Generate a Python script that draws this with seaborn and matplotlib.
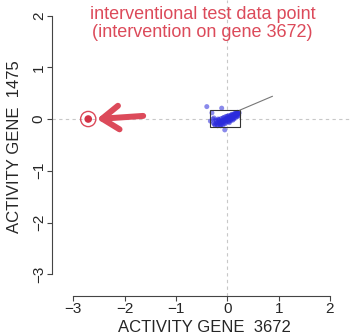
import numpy as np
import pandas as pd
import matplotlib
matplotlib.use("Agg")
import matplotlib.pyplot as plt
import seaborn as sns
from matplotlib.patches import Rectangle, FancyArrowPatch

obs_x = [-0.40, -0.11, -0.30, -0.05, -0.28, -0.25, -0.22, -0.20, -0.18, -0.16,
         -0.15, -0.13, -0.12, -0.10, -0.09, -0.08, -0.07, -0.06, -0.05, -0.04,
         -0.03, -0.02, -0.01, 0.00, 0.01, 0.02, 0.03, 0.04, 0.05, 0.06,
         0.07, 0.08, 0.09, 0.10, 0.11, 0.12, 0.13, 0.14, 0.15, 0.16,
         0.17, 0.18, 0.19, 0.20, 0.21, 0.22, 0.23, -0.24, -0.19, -0.14,
         -0.11, -0.06, -0.02, 0.02, 0.06, 0.10, 0.14, 0.18, -0.17, -0.08,
         0.00, 0.08, 0.15, 0.21, -0.33, -0.26, 0.04, 0.12, -0.21, -0.16,
         -0.12, -0.07, -0.03, 0.01, 0.05, 0.09, 0.13, 0.17, 0.20, -0.27,
         -0.23, -0.18, -0.13, -0.04, 0.03, 0.07, 0.11, 0.16, 0.22, -0.09]
obs_y = [0.24, 0.21, 0.12, -0.21, 0.00, -0.10, -0.08, -0.11, -0.07, -0.09,
         -0.05, -0.07, -0.04, -0.06, -0.03, -0.05, -0.02, -0.04, -0.01, -0.03,
         0.00, -0.02, 0.01, -0.01, 0.02, 0.00, 0.03, 0.01, 0.04, 0.02,
         0.05, 0.03, 0.06, 0.04, 0.07, 0.05, 0.08, 0.06, 0.09, 0.07,
         0.10, 0.08, 0.11, 0.09, 0.12, 0.10, 0.12, -0.12, -0.13, -0.11,
         -0.10, -0.08, -0.06, -0.04, -0.01, 0.01, 0.03, 0.05, -0.02, 0.02,
         0.05, 0.08, 0.11, 0.05, -0.04, 0.02, -0.07, 0.00, -0.04, -0.01,
         0.01, 0.03, 0.05, 0.06, 0.07, 0.09, 0.10, 0.12, 0.13, -0.08,
         -0.02, 0.00, -0.13, -0.09, -0.05, -0.03, -0.02, 0.02, 0.07, -0.12]

test_x = [-2.71]
test_y = [0.0]

box = [-0.34, -0.16, 0.24, 0.17]        # xmin, ymin, xmax, ymax
line_x = [0.24, 0.88]
line_y = [0.17, 0.44]
arrow_tail = [-1.64, 0.06]
arrow_head = [-2.54, 0.0]

ticks = [-3, -2, -1, 0, 1, 2]
red = "#dc4a5a"
dot_red = "#d43246"

sns.set_style("white")
plt.rcParams["font.family"] = ["Liberation Sans", "DejaVu Sans"]

fig = plt.figure(figsize=(3.5, 3.34), dpi=100)
ax = fig.add_axes([52 / 350, 38 / 334, 298 / 350, 296 / 334])

df = pd.DataFrame({"x": obs_x, "y": obs_y})
ax.axhline(0, color="#c8c8c8", lw=0.8, ls=(0, (3, 3)), zorder=0)
ax.axvline(0, color="#c8c8c8", lw=0.8, ls=(0, (3, 3)), zorder=0)

sns.scatterplot(data=df, x="x", y="y", ax=ax, color="#2b2bdc", alpha=0.55,
                s=13, edgecolor="none", legend=False)
ax.add_patch(Rectangle((box[0], box[1]), box[2] - box[0], box[3] - box[1],
                       fill=False, ec="#333333", lw=0.8))
ax.plot(line_x, line_y, color="#777777", lw=0.8)

sns.scatterplot(x=test_x, y=test_y, ax=ax, color=dot_red, s=30, edgecolor="none")
ax.scatter(test_x, test_y, s=120, facecolor="none", edgecolor=red, lw=1.0)
ax.add_patch(FancyArrowPatch(tuple(arrow_tail), tuple(arrow_head),
                             arrowstyle="->,head_length=12,head_width=8.5",
                             color=red, lw=4.3, mutation_scale=1,
                             shrinkA=0, shrinkB=0,
                             capstyle="round", joinstyle="round"))

ax.text(-0.48, 1.84, "interventional test data point\n(intervention on gene 3672)",
        color=red, fontsize=13, ha="center", va="center", linespacing=1.05)

ax.set_xlim(-3.416, 2.39)
ax.set_ylim(-3.42, 2.30)
ax.set_xticks(ticks)
ax.set_yticks(ticks)
ax.set_xticklabels([str(t).replace("-", "\u2212") for t in ticks])
ax.set_yticklabels([str(t).replace("-", "\u2212") for t in ticks], rotation=90,
                   va="center")
ax.tick_params(labelsize=11, length=3.5, width=0.8, color="#444444", pad=1,
               bottom=True, left=True)
for side in ["top", "right"]:
    ax.spines[side].set_visible(False)
for side in ["left", "bottom"]:
    ax.spines[side].set_bounds(-3, 2)
    ax.spines[side].set_color("#444444")
    ax.spines[side].set_linewidth(0.8)
ax.set_xlabel("")
ax.set_ylabel("")
fig.text(204 / 350, 1 - 327 / 334, "ACTIVITY GENE  3672", fontsize=12,
         ha="center", va="center")
fig.text(15 / 350, 1 - 147 / 334, "ACTIVITY GENE  1475", fontsize=12,
         ha="center", va="center", rotation=90)

fig.savefig("out.png", dpi=100)
